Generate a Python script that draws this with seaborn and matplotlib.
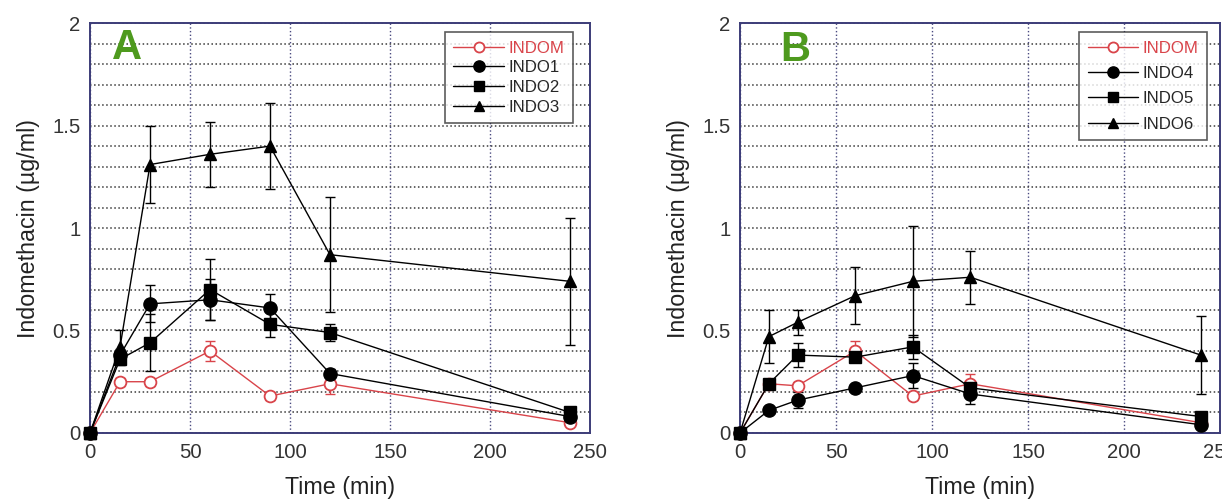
import numpy as np
import pandas as pd
import matplotlib
matplotlib.use("Agg")
import matplotlib.pyplot as plt
import seaborn as sns
from matplotlib.ticker import MultipleLocator
from matplotlib import font_manager

# Data
time = [0, 15, 30, 60, 90, 120, 240]

indom = [0, 0.25, 0.25, 0.40, 0.18, 0.24, 0.05]
indom_err = [0, 0.02, 0.02, 0.05, 0.02, 0.05, 0.01]

indo1 = [0, 0.38, 0.63, 0.65, 0.61, 0.29, 0.08]
indo1_err = [0, 0.03, 0.09, 0.10, 0.07, 0.02, 0.01]
indo2 = [0, 0.36, 0.44, 0.70, 0.53, 0.49, 0.10]
indo2_err = [0, 0.03, 0.14, 0.15, 0.06, 0.04, 0.01]
indo3 = [0, 0.42, 1.31, 1.36, 1.40, 0.87, 0.74]
indo3_err = [0, 0.08, 0.19, 0.16, 0.21, 0.28, 0.31]

indom_b = [0, 0.24, 0.23, 0.40, 0.18, 0.24, 0.05]
indom_b_err = [0, 0.02, 0.02, 0.05, 0.02, 0.05, 0.01]
indo4 = [0, 0.11, 0.16, 0.22, 0.28, 0.19, 0.04]
indo4_err = [0, 0.01, 0.04, 0.01, 0.06, 0.05, 0.01]
indo5 = [0, 0.24, 0.38, 0.37, 0.42, 0.22, 0.08]
indo5_err = [0, 0.02, 0.06, 0.02, 0.06, 0.03, 0.01]
indo6 = [0, 0.47, 0.54, 0.67, 0.74, 0.76, 0.38]
indo6_err = [0, 0.13, 0.06, 0.14, 0.27, 0.13, 0.19]

panels = [
    ("A", ["INDOM", "INDO1", "INDO2", "INDO3"],
     [indom, indo1, indo2, indo3], [indom_err, indo1_err, indo2_err, indo3_err]),
    ("B", ["INDOM", "INDO4", "INDO5", "INDO6"],
     [indom_b, indo4, indo5, indo6], [indom_b_err, indo4_err, indo5_err, indo6_err]),
]

sns.set_style("white")
# narrow face if present, else regular Liberation Sans
names_installed = {f.name for f in font_manager.fontManager.ttflist}
narrow = "Liberation Sans Narrow" in names_installed
plt.rcParams["font.family"] = (["Liberation Sans Narrow"] if narrow else []) + ["Liberation Sans", "DejaVu Sans"]
k = 1.0 if narrow else 0.86

red = "#d9444a"
spine_col = "#3c3c78"
styles = [
    dict(color=red, marker="o", mfc="white", mec=red, ms=8.5, mew=1.3),
    dict(color="black", marker="o", mfc="black", mec="black", ms=9.5, mew=1),
    dict(color="black", marker="s", mfc="black", mec="black", ms=9, mew=1),
    dict(color="black", marker="^", mfc="black", mec="black", ms=8, mew=1),
]

fig = plt.figure(figsize=(12.22, 5.04), dpi=100)
axes = [fig.add_axes([0.0737, 0.141, 0.409, 0.813]),
        fig.add_axes([0.6056, 0.141, 0.3928, 0.813])]
legend_pos = [(0.966, 0.978), (0.973, 0.978)]
label_space = [0.28, 0.62]
letter_pos = [(0.074, 0.94), (0.115, 0.935)]

for ax, (letter, names, values, errs), lpos, lsp, tpos in zip(
        axes, panels, legend_pos, label_space, letter_pos):
    for name, vals, err, st in zip(names, values, errs, styles):
        df = pd.DataFrame({"Time": time, "Conc": vals})
        ax.errorbar(time, vals, yerr=err, fmt="none", ecolor=st["color"],
                    elinewidth=1, capsize=3.5, capthick=1, zorder=2)
        sns.lineplot(data=df, x="Time", y="Conc", ax=ax, label=name,
                     color=st["color"], marker=st["marker"],
                     markerfacecolor=st["mfc"], markeredgecolor=st["mec"],
                     markersize=st["ms"], markeredgewidth=st["mew"],
                     linewidth=1, errorbar=None, clip_on=False, zorder=3)

    ax.set_xlim(0, 250)
    ax.set_ylim(0, 2)
    ax.xaxis.set_major_locator(MultipleLocator(50))
    ax.yaxis.set_major_locator(MultipleLocator(0.5))
    ax.yaxis.set_minor_locator(MultipleLocator(0.1))
    ax.yaxis.set_major_formatter(plt.FuncFormatter(lambda v, p: f"{v:g}"))
    ax.grid(True, which="major", axis="x", linestyle=":", color="#4a4a80", linewidth=1)
    ax.grid(True, which="both", axis="y", linestyle=":", color="#3a3a3a", linewidth=1.1)
    ax.tick_params(which="both", length=0, labelsize=17 * k, labelcolor="#333333", pad=7)
    for s in ax.spines.values():
        s.set_color(spine_col)
        s.set_linewidth(1.4)
    ax.set_xlabel("Time (min)", fontsize=19.5 * k, color="#222222", labelpad=10)
    ax.set_ylabel("Indomethacin (\u00b5g/ml)", fontsize=19.5 * k, color="#222222", labelpad=9)

    leg = ax.legend(loc="upper right", bbox_to_anchor=lpos, borderaxespad=0,
                    frameon=True, fancybox=False, edgecolor="#333333",
                    prop={"size": 14 * k}, handlelength=3, labelspacing=lsp,
                    handletextpad=0.3, borderpad=0.5, markerscale=0.85)
    leg.get_frame().set_linewidth(1.2)
    leg.get_texts()[0].set_color(red)

    ax.text(tpos[0], tpos[1], letter, transform=ax.transAxes, fontsize=30,
            fontweight="bold", color="#4e9a1e", ha="center", va="center",
            family=["Liberation Sans", "DejaVu Sans"])

fig.savefig("out.png", dpi=100)
